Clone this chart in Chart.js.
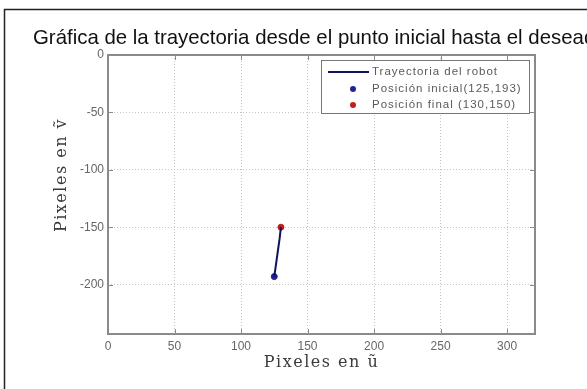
<!DOCTYPE html>
<html>
<head>
<meta charset="utf-8">
<script src="https://cdn.jsdelivr.net/npm/chart.js@4.4.1/dist/chart.umd.min.js"></script>
<style>
  html, body { margin: 0; padding: 0; background: #fff; }
  #wrap { width: 587px; height: 389px; }
</style>
</head>
<body>
<div id="wrap"><canvas id="grafica" width="587" height="389"></canvas></div>
<script>
// datos
const trayX = [125, 129, 130];
const trayY = [-193, -160, -150];
const inicio = [125, -193];
const fin = [130, -150];
const xTicks = [0, 50, 100, 150, 200, 250, 300];
const yTicks = [-200, -150, -100, -50, 0];
const xLim = [0, 321];
const yLim = [-243, 0];
const etiquetas = ['Trayectoria del robot', 'Posición inicial(125,193)', 'Posición final (130,150)'];
const titulo = 'Gráfica de la trayectoria desde el punto inicial hasta el deseado';

const colorEje = '#8a8a8a';

// marco, titulo, ticks internos, caja de ejes, titulos de ejes y leyenda
const decoracion = {
    id: 'decoracion',
    beforeDraw(chart) {
        const ctx = chart.ctx;
        ctx.save();
        ctx.fillStyle = '#fff';
        ctx.fillRect(0, 0, chart.width, chart.height);
        ctx.strokeStyle = '#222';
        ctx.lineWidth = 1.5;
        ctx.beginPath();
        ctx.moveTo(4.5, chart.height);
        ctx.lineTo(4.5, 9.5);
        ctx.lineTo(chart.width, 9.5);
        ctx.stroke();
        ctx.restore();
    },
    afterDraw(chart) {
        const ctx = chart.ctx;
        const a = chart.chartArea;
        const sx = chart.scales.x, sy = chart.scales.y;
        ctx.save();

        // titulo
        ctx.fillStyle = '#111';
        ctx.font = '20.4px "Liberation Sans", Arial, sans-serif';
        ctx.textBaseline = 'middle';
        ctx.textAlign = 'left';
        ctx.fillText(titulo, 33, 38);

        // caja de ejes
        ctx.strokeStyle = colorEje;
        ctx.lineWidth = 2;
        ctx.strokeRect(a.left, a.top, a.right - a.left, a.bottom - a.top);

        // ticks hacia dentro
        ctx.lineWidth = 1;
        ctx.beginPath();
        xTicks.forEach(v => {
            const px = Math.round(sx.getPixelForValue(v)) + 0.5;
            ctx.moveTo(px, a.bottom); ctx.lineTo(px, a.bottom - 5);
            ctx.moveTo(px, a.top); ctx.lineTo(px, a.top + 5);
        });
        yTicks.forEach(v => {
            const py = Math.round(sy.getPixelForValue(v)) + 0.5;
            ctx.moveTo(a.left, py); ctx.lineTo(a.left + 5, py);
            ctx.moveTo(a.right, py); ctx.lineTo(a.right - 5, py);
        });
        ctx.stroke();

        // titulos de ejes
        ctx.fillStyle = '#3a3a3a';
        ctx.font = '16px "DejaVu Serif", "Liberation Serif", serif';
        ctx.letterSpacing = '1.5px';
        ctx.textAlign = 'center';
        ctx.fillText('Pixeles en ũ', (a.left + a.right) / 2, 363);
        ctx.save();
        ctx.translate(62, a.top + (a.bottom - a.top) * 0.43);
        ctx.rotate(-Math.PI / 2);
        ctx.fillText('Pixeles en ṽ', 0, 0);
        ctx.restore();

        // leyenda
        const bx = a.right - 214, by = a.top + 5, bw = 208, bh = 53;
        ctx.fillStyle = '#fff';
        ctx.fillRect(bx, by, bw, bh);
        ctx.strokeStyle = '#777';
        ctx.lineWidth = 1;
        ctx.strokeRect(bx + 0.5, by + 0.5, bw, bh);
        ctx.font = '11.5px "Liberation Sans", Arial, sans-serif';
        ctx.letterSpacing = '1px';
        ctx.textAlign = 'left';
        const filas = [by + 12, by + 29, by + 45];
        chart.data.datasets.forEach((ds, i) => {
            const y = filas[i];
            if (i === 0) {
                ctx.strokeStyle = ds.borderColor;
                ctx.lineWidth = 2;
                ctx.beginPath();
                ctx.moveTo(bx + 7, y); ctx.lineTo(bx + 48, y);
                ctx.stroke();
            } else {
                ctx.fillStyle = ds.pointBackgroundColor;
                ctx.beginPath();
                ctx.arc(bx + 32, y, 3, 0, Math.PI * 2);
                ctx.fill();
            }
            ctx.fillStyle = '#5a5a5a';
            ctx.fillText(ds.label, bx + 51, y);
        });
        ctx.restore();
    }
};

new Chart(document.getElementById('grafica'), {
    type: 'scatter',
    data: {
        datasets: [{
            label: etiquetas[0],
            type: 'line',
            data: trayX.map((x, i) => ({x: x, y: trayY[i]})),
            borderColor: '#12125a',
            borderWidth: 2,
            pointRadius: 0,
            fill: false
        }, {
            label: etiquetas[1],
            data: [{x: inicio[0], y: inicio[1]}],
            pointRadius: 3,
            pointBackgroundColor: '#22229a',
            pointBorderColor: '#22229a'
        }, {
            label: etiquetas[2],
            data: [{x: fin[0], y: fin[1]}],
            pointRadius: 3,
            pointBackgroundColor: '#c0201c',
            pointBorderColor: '#c0201c'
        }]
    },
    options: {
        responsive: false,
        maintainAspectRatio: false,
        animation: false,
        layout: {
            padding: {left: 0, top: 55, right: 52, bottom: 0}
        },
        scales: {
            x: {
                type: 'linear',
                min: xLim[0],
                max: xLim[1],
                afterBuildTicks: s => { s.ticks = xTicks.map(v => ({value: v})); },
                afterFit: s => { s.height = 55; },
                grid: {
                    color: '#c4c4c4',
                    lineWidth: 1,
                    drawTicks: false
                },
                border: {display: false, dash: [1, 2]},
                ticks: {
                    color: '#666',
                    padding: 5,
                    font: {family: '"Liberation Sans", Arial, sans-serif', size: 12}
                }
            },
            y: {
                type: 'linear',
                min: yLim[0],
                max: yLim[1],
                afterBuildTicks: s => { s.ticks = yTicks.map(v => ({value: v})); },
                afterFit: s => { s.width = 108; },
                grid: {
                    color: '#c4c4c4',
                    lineWidth: 1,
                    drawTicks: false
                },
                border: {display: false, dash: [1, 2]},
                ticks: {
                    color: '#666',
                    padding: 4,
                    font: {family: '"Liberation Sans", Arial, sans-serif', size: 12}
                }
            }
        },
        plugins: {
            legend: {display: false},
            title: {display: false},
            tooltip: {enabled: false}
        }
    },
    plugins: [decoracion]
});
</script>
</body>
</html>
